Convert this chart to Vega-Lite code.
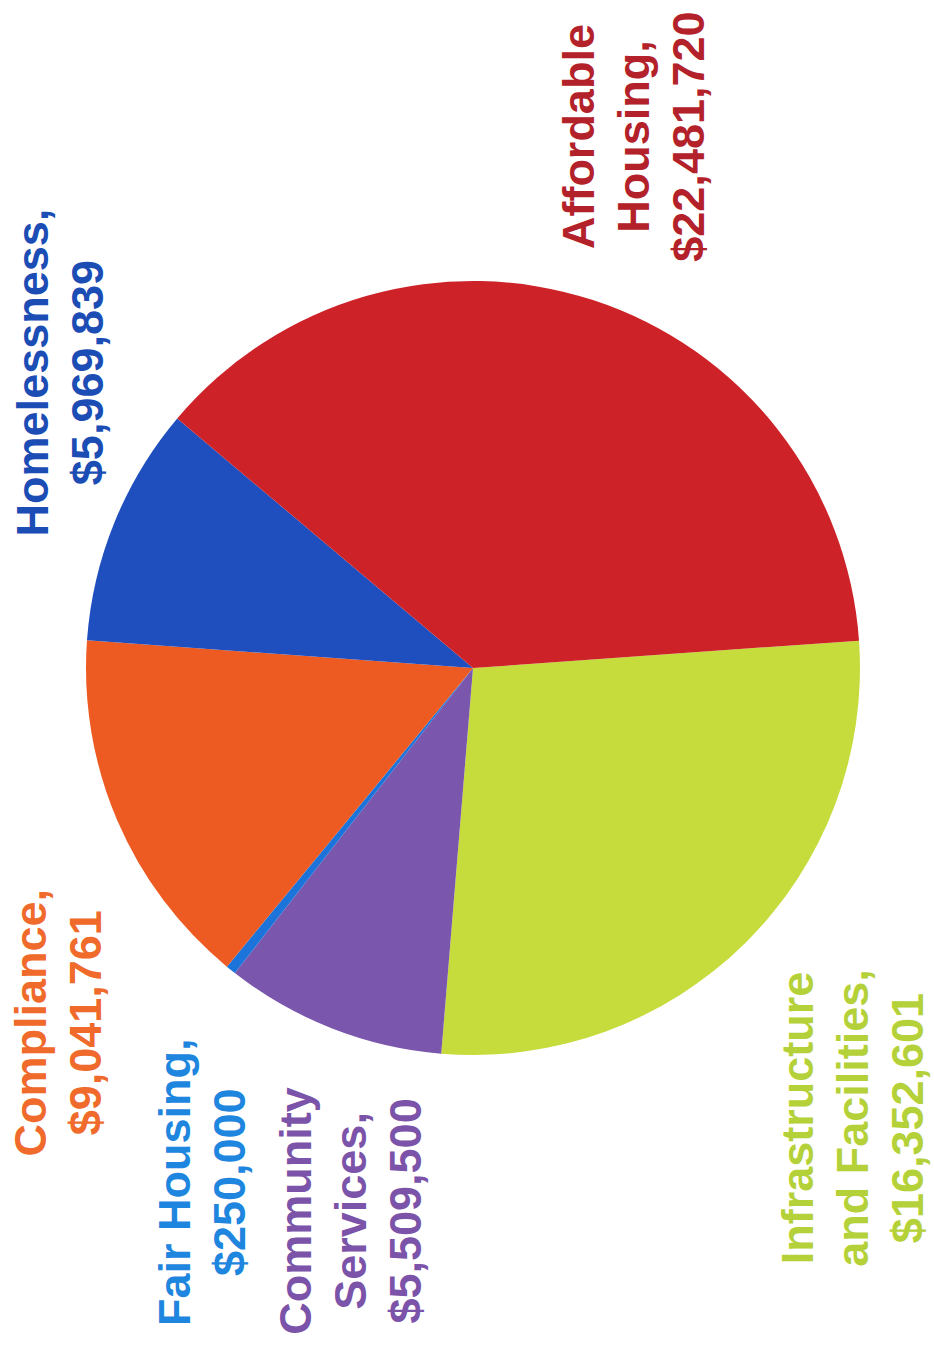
{
  "$schema": "https://vega.github.io/schema/vega-lite/v6.json",
  "width": 922,
  "height": 1336,
  "autosize": {"type": "none"},
  "padding": {"left": 12, "top": 0, "right": 0, "bottom": 16},
  "background": "white",
  "config": {"view": {"stroke": null}},
  "data": {
    "values": [
      {"category": "Infrastructure and Facilities", "amount": 16352601, "idx": 1, "label": "Infrastructure\nand Facilities,\n$16,352,601"},
      {"category": "Community Services", "amount": 5509500, "idx": 2, "label": "Community\nServices,\n$5,509,500"},
      {"category": "Fair Housing", "amount": 250000, "idx": 3, "label": "Fair Housing,\n$250,000"},
      {"category": "Compliance", "amount": 9041761, "idx": 4, "label": "Compliance,\n$9,041,761"},
      {"category": "Homelessness", "amount": 5969839, "idx": 5, "label": "Homelessness,\n$5,969,839"},
      {"category": "Affordable Housing", "amount": 22481720, "idx": 6, "label": "Affordable\nHousing,\n$22,481,720"}
    ]
  },
  "layer": [
    {
      "mark": {"type": "arc", "outerRadius": 387},
      "encoding": {
        "theta": {"field": "amount", "type": "quantitative", "stack": true, "scale": {"range": [1.5, 7.783185307179586]}},
        "order": {"field": "idx", "type": "quantitative"},
        "color": {
          "field": "category", "type": "nominal", "legend": null,
          "scale": {
            "domain": ["Infrastructure and Facilities", "Community Services", "Fair Housing", "Compliance", "Homelessness", "Affordable Housing"],
            "range": ["#C6DC3D", "#7A56AD", "#1C74DB", "#EE5B22", "#1F4EBE", "#CE2229"]
          }
        }
      }
    },
    {
      "encoding": {
        "theta": {"field": "amount", "type": "quantitative", "stack": true, "scale": {"range": [1.5, 7.783185307179586]}},
        "order": {"field": "idx", "type": "quantitative"},
        "color": {
          "field": "category", "type": "nominal", "legend": null,
          "scale": {
            "domain": ["Infrastructure and Facilities", "Community Services", "Fair Housing", "Compliance", "Homelessness", "Affordable Housing"],
            "range": ["#B5D13A", "#7B53A9", "#1E86DE", "#EF6A2B", "#1B4DB5", "#B3222A"]
          }
        }
      },
      "layer": [
        {
          "mark": {"type": "text", "radius": 540, "angle": 270, "dx": -66, "dy": -54, "align": "center", "baseline": "middle", "lineBreak": "\n", "font": "Liberation Sans", "fontWeight": "bold", "fontSize": 45, "lineHeight": 55},
          "encoding": {"text": {"condition": {"test": "datum.category === 'Infrastructure and Facilities'", "field": "label", "type": "nominal"}, "value": ""}}
        },
        {
          "mark": {"type": "text", "radius": 540, "angle": 270, "dx": -40, "dy": 21, "align": "center", "baseline": "middle", "lineBreak": "\n", "font": "Liberation Sans", "fontWeight": "bold", "fontSize": 45, "lineHeight": 55},
          "encoding": {"text": {"condition": {"test": "datum.category === 'Community Services'", "field": "label", "type": "nominal"}, "value": ""}}
        },
        {
          "mark": {"type": "text", "radius": 540, "angle": 270, "dx": -93, "dy": 41, "align": "center", "baseline": "middle", "lineBreak": "\n", "font": "Liberation Sans", "fontWeight": "bold", "fontSize": 45, "lineHeight": 55},
          "encoding": {"text": {"condition": {"test": "datum.category === 'Fair Housing'", "field": "label", "type": "nominal"}, "value": ""}}
        },
        {
          "mark": {"type": "text", "radius": 540, "angle": 270, "dx": -142, "dy": 55, "align": "center", "baseline": "middle", "lineBreak": "\n", "font": "Liberation Sans", "fontWeight": "bold", "fontSize": 45, "lineHeight": 55},
          "encoding": {"text": {"condition": {"test": "datum.category === 'Compliance'", "field": "label", "type": "nominal"}, "value": ""}}
        },
        {
          "mark": {"type": "text", "radius": 540, "angle": 270, "dx": 92, "dy": 61, "align": "center", "baseline": "middle", "lineBreak": "\n", "font": "Liberation Sans", "fontWeight": "bold", "fontSize": 45, "lineHeight": 55},
          "encoding": {"text": {"condition": {"test": "datum.category === 'Homelessness'", "field": "label", "type": "nominal"}, "value": ""}}
        },
        {
          "mark": {"type": "text", "radius": 540, "angle": 270, "dx": 18, "dy": -60, "align": "center", "baseline": "middle", "lineBreak": "\n", "font": "Liberation Sans", "fontWeight": "bold", "fontSize": 45, "lineHeight": 55},
          "encoding": {"text": {"condition": {"test": "datum.category === 'Affordable Housing'", "field": "label", "type": "nominal"}, "value": ""}}
        }
      ]
    }
  ],
  "resolve": {"scale": {"color": "independent"}}
}
